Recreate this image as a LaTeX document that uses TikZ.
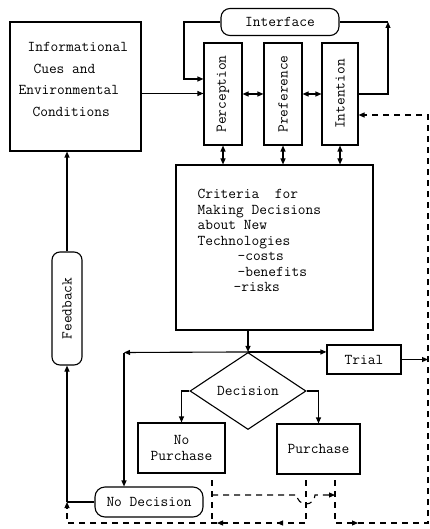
\documentclass[tikz,border=0pt]{standalone}
\usepackage{fontspec}
\usetikzlibrary{arrows.meta,shapes.geometric,decorations.markings}

\begin{document}
\begin{tikzpicture}[x=1pt,y=-1pt,line width=1.1pt,
  font=\ttfamily\fontsize{15}{15.5}\selectfont\addfontfeature{FakeStretch=1.1},
  block/.style={draw,rectangle,inner sep=0pt},
  pill/.style={draw,rectangle,rounded corners=9pt,inner sep=0pt},
  arr/.style={-{Triangle[length=6pt,width=5pt]}},
  darr/.style={{Triangle[length=6pt,width=5pt]}-{Triangle[length=6pt,width=5pt]}},
  dsh/.style={dash pattern=on 6pt off 5pt}]
\def\yMid{94}
\def\xRight{428}
\def\yBot{523}
\useasboundingbox (0,0) rectangle (430,529);
  %\draw[help lines] (0,0) grid[step=50] (430,529);
\path
(75.5,86.5) node [block,minimum width=131pt,minimum height=129pt] (info) {}
(18,79.5) node [anchor=west,align=left,inner sep=0pt,
  font=\ttfamily\fontsize{15}{21.7}\selectfont\addfontfeature{FakeStretch=1.1}] (infotxt)
  {\hspace*{9pt}Informational\\\hspace*{15pt}Cues and\\Environmental\\\hspace*{14pt}Conditions}
(280,22) node [pill,minimum width=118pt,minimum height=27pt] (iface) {Interface}
(223,\yMid) node [block,minimum width=38pt,minimum height=102pt] (perc) {\rotatebox{90}{Perception}}
(283,\yMid) node [block,minimum width=38pt,minimum height=102pt] (pref) {\rotatebox{90}{Preference}}
(340,\yMid) node [block,minimum width=36pt,minimum height=102pt] (intent) {\rotatebox{90}{Intention}}
(274.5,247.5) node [block,minimum width=197pt,minimum height=165pt] (crit) {}
(197,189) node [anchor=north west,align=left,inner sep=0pt] (crittxt)
  {Criteria~ for\\Making Decisions\\about New\\Technologies\\\hspace*{40pt}-costs\\\hspace*{40pt}-benefits\\\hspace*{36pt}-risks}
(248,391) node [draw,diamond,aspect=1.5,minimum width=116pt,minimum height=77pt,inner sep=0pt] (dec) {Decision}
(364,359.5) node [block,minimum width=74pt,minimum height=29pt] (trial) {Trial}
(181.5,448) node [block,minimum width=87pt,minimum height=50pt,align=center] (nopur) {No\\Purchase}
(318.5,449) node [block,minimum width=83pt,minimum height=50pt] (pur) {Purchase}
(149,502) node [pill,rounded corners=10pt,minimum width=108pt,minimum height=30pt] (nodec) {No Decision}
(67,308.5) node [pill,rounded corners=8pt,minimum width=30pt,minimum height=113pt] (fb) {\rotatebox{90}{Feedback}}
;
\coordinate (ifl) at (184,22);
\coordinate (ifr) at (388,22);
\coordinate (y79) at (0,79);
\coordinate (infoout) at ([yshift=-7pt]info.east);
\coordinate (ndc) at (124,352.5);
\coordinate (fbj) at (67,502);
\coordinate (bl) at (67,\yBot);
\coordinate (rt) at (\xRight,115);
\coordinate (rb) at (\xRight,\yBot);
\coordinate (nps) at (212,480);
\coordinate (ps1) at (306,480);
\coordinate (ps2) at (335,480);
\coordinate (hopl) at (212,495);
\coordinate (hopa) at (297,495);
% top part
\draw[arr] (iface.west) -- (ifl) |- (perc.west |- y79);
\draw[arr] (infoout) -- (infoout -| perc.west);
\draw[arr] (intent.east) -- (intent.east -| ifr) -- (ifr);
\draw (ifr) -- (iface.east);
\draw[darr] (perc.east) -- (pref.west);
\draw[darr] (pref.east) -- (intent.west);
\draw[darr] (perc.south) -- (perc.south |- crit.north);
\draw[darr] (pref.south) -- (pref.south |- crit.north);
\draw[darr] (intent.south) -- (intent.south |- crit.north);
% decision
\draw[arr] (dec.north |- crit.south) -- (dec.north);
\draw[arr] (dec.north) -- (dec.north -| trial.west);
\draw[arr] (dec.north) -- (ndc);
\draw[arr] (ndc) -- (ndc |- nodec.north);
\draw[arr] (dec.west) -| (nopur.north);
\draw[arr] (dec.east) -| (pur.north);
\draw[arr] (trial.east) -- (trial.east -| rt);
% feedback
\draw (nodec.west) -- (fbj);
\draw[arr] (fbj) -- (fb.south);
\draw[arr] (fb.north) -- (fb.north |- info.south);
% dashed returns
\draw[dsh] (nps) -- (nps |- bl);
\draw[dsh,arr] (hopl) -- (hopa) arc[start angle=180,end angle=360,radius=9pt] -- (ps2 |- hopl);
\draw[dsh,arr,postaction={decorate},decoration={markings,
  mark=at position 72pt with {\arrow{Triangle[length=6pt,width=5pt]}},
  mark=at position 132pt with {\arrow{Triangle[length=6pt,width=5pt]}}}]
  (ps1) -- (ps1 |- bl) -- (bl) -- (fbj);
\draw[dsh,arr,postaction={decorate},decoration={markings,
  mark=at position 66pt with {\arrow{Triangle[length=6pt,width=5pt]}}}]
  (ps2) -- (ps2 |- rb) -- (rb) -- (rt) -- (rt -| intent.east);
\end{tikzpicture}
\end{document}
